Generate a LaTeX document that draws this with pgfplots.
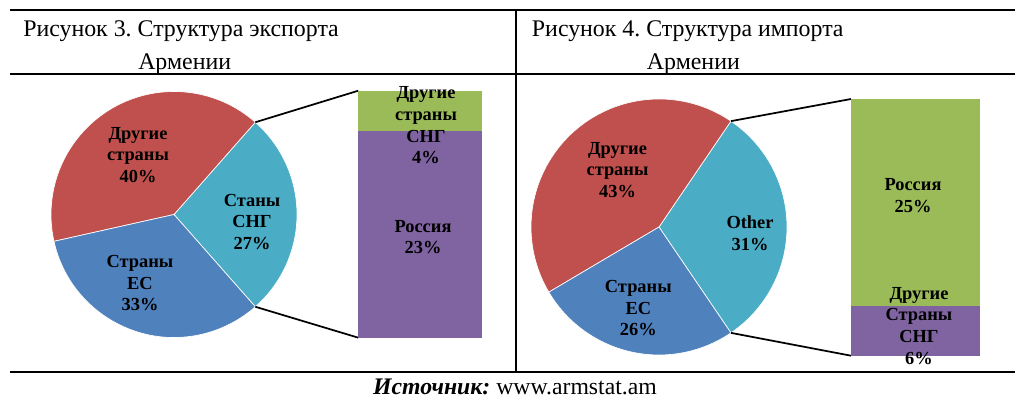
\documentclass[border=0pt]{standalone}
\usepackage{pgfplots}
\pgfplotsset{compat=1.18}
\usepackage{fontspec}
\setmainfont{Liberation Serif}
\frenchspacing

\definecolor{cRed}{HTML}{C0504D}
\definecolor{cBlue}{HTML}{4F81BD}
\definecolor{cTeal}{HTML}{4BACC6}
\definecolor{cGreen}{HTML}{9BBB59}
\definecolor{cPurple}{HTML}{8064A2}

% pie: centre x, centre y, radius, first (split) share, list share/colour,
%      bar left x, bar top y, bar bottom y
\newcommand\drawpie[8]{%
  \pgfmathsetmacro\pieH{1.8*#4}%
  \xdef\pieA{-\pieH}%
  \foreach \v/\c in {#5}{%
    \pgfmathsetmacro\pieB{\pieA+3.6*\v}%
    \edef\temp{\noexpand\fill[\c, draw=white, line width=0.5pt]
      (axis cs:#1,#2) -- ++(\pieA:#3) arc[start angle=\pieA, end angle=\pieB, radius=#3] -- cycle;}%
    \temp
    \xdef\pieA{\pieB}%
  }%
  \edef\temp{\noexpand\draw[line width=1.3pt] (axis cs:#1,#2) ++(\pieH:#3) -- (axis cs:#6,#7);
    \noexpand\draw[line width=1.3pt] (axis cs:#1,#2) ++(-\pieH:#3) -- (axis cs:#6,#8);}%
  \temp
}

% bar of pie: shares of the split slice (top, bottom)
\def\eTop{4.4}\def\eBot{22.6}
\def\iTop{25}\def\iBot{6}
\pgfmathsetmacro\eMid{90.7+247*\eTop/(\eTop+\eBot)}
\pgfmathsetmacro\iMid{99+256.7*\iTop/(\iTop+\iBot)}

\tikzset{lab/.style={align=center, inner sep=0pt, font=\bfseries\fontsize{13.8}{16.2}\selectfont},
  ttl/.style={anchor=base west, inner sep=0pt, font=\fontsize{17.9}{21}\selectfont}}

\begin{document}
\begin{tikzpicture}
\begin{axis}[
  name=ax,
  scale only axis, width=761.25pt, height=307.5pt,
  xmin=0, xmax=1015, ymin=0, ymax=410, y dir=reverse,
  hide axis, clip=false, no markers,
]
% export
\drawpie{174}{214.5}{92.25pt}{27}{27/cTeal,40/cRed,33/cBlue}{358.3}{90.7}{337.7}
\addplot[fill=cGreen, draw=none] coordinates {(358.3,90.7) (481.7,90.7) (481.7,\eMid) (358.3,\eMid)};
\addplot[fill=cPurple, draw=none] coordinates {(358.3,\eMid) (481.7,\eMid) (481.7,337.7) (358.3,337.7)};
% import
\drawpie{659}{227}{96pt}{31}{31/cTeal,43/cRed,26/cBlue}{851}{99}{355.7}
\addplot[fill=cGreen, draw=none] coordinates {(851,99) (980,99) (980,\iMid) (851,\iMid)};
\addplot[fill=cPurple, draw=none] coordinates {(851,\iMid) (980,\iMid) (980,355.7) (851,355.7)};

% labels
\node[lab] at (axis cs:138,155) {Другие\\страны\\40\%};
\node[lab] at (axis cs:252,221.7) {Станы\\СНГ\\27\%};
\node[lab] at (axis cs:140,283.3) {Страны\\ЕС\\33\%};
\node[lab] at (axis cs:426,125.3) {Другие\\страны\\СНГ\\4\%};
\node[lab] at (axis cs:423,237.2) {Россия\\23\%};
\node[lab] at (axis cs:617.5,170) {Другие\\страны\\43\%};
\node[lab] at (axis cs:750,233.3) {Other\\31\%};
\node[lab] at (axis cs:638.3,308.3) {Страны\\ЕС\\26\%};
\node[lab] at (axis cs:913,195.5) {Россия\\25\%};
\node[lab] at (axis cs:919,325.8) {Другие\\Страны\\СНГ\\6\%};

% table frame
\draw[line width=1.5pt] (axis cs:10,10) -- (axis cs:1015,10);
\draw[line width=1.5pt] (axis cs:10,74.5) -- (axis cs:1015,74.5);
\draw[line width=1.5pt] (axis cs:10,372) -- (axis cs:1015,372);
\draw[line width=1.2pt] (axis cs:516,10) -- (axis cs:516,372);

% titles
\node[ttl] at (axis cs:23,37) {Рисунок 3. Структура экспорта};
\node[ttl] at (axis cs:138,69.5) {Армении};
\node[ttl] at (axis cs:531.7,37) {Рисунок 4. Структура импорта};
\node[ttl] at (axis cs:646.7,69.5) {Армении};
\node[anchor=base, inner sep=0pt, font=\fontsize{17.8}{21}\selectfont] at (axis cs:515,394)
  {\textbf{\textit{Источник:}} www.armstat.am};
\end{axis}
\pgfresetboundingbox
\path (ax.south west) rectangle (ax.north east);
\end{tikzpicture}
\end{document}
